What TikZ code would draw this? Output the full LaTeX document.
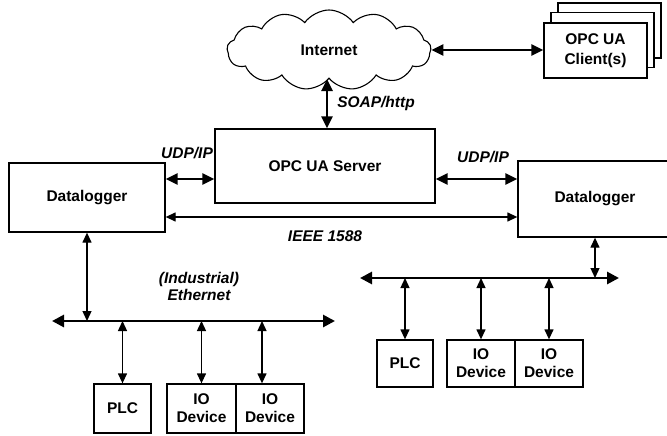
\documentclass[tikz,border=0pt]{standalone}
\usepackage{fontspec}
\setmainfont{Liberation Sans}
\usetikzlibrary{arrows.meta,shapes.symbols}
\begin{document}
\begin{tikzpicture}[x=1pt,y=-1pt,
  box/.style={draw, line width=1.3pt, fill=white, inner sep=0pt, align=center,
    font=\bfseries\fontsize{15.5}{18}\selectfont},
  lbl/.style={font=\bfseries\itshape\fontsize{15.5}{17}\selectfont, align=center, inner sep=0pt},
  thinarr/.style={line width=1.3pt, {Triangle[length=10pt,width=9pt]}-{Triangle[length=10pt,width=9pt]}},
  thickarr/.style={line width=2.6pt, {Triangle[length=12pt,width=11pt]}-{Triangle[length=12pt,width=11pt]}},
  busarr/.style={line width=2.8pt, {Triangle[length=12pt,width=12pt]}-{Triangle[length=12pt,width=12pt]}}]
\useasboundingbox (0,0) rectangle (667,436);
\clip (0,0) rectangle (667,436);

% cloud
\node[cloud, draw, line width=1.1pt, cloud puffs=13, cloud puff arc=110, aspect=2.6,
  minimum width=204, minimum height=80, inner sep=0pt,
  font=\bfseries\fontsize{15.5}{18}\selectfont] (internet) at (329,50) {Internet};

% clients (stacked)
\node[box, minimum width=103, minimum height=55] (client3) at (609.5,30.5) {};
\node[box, minimum width=103, minimum height=55] (client2) at (602.5,40) {};
\node[box, minimum width=103, minimum height=55] (client) at (595.5,50.5) {OPC UA\\[2pt]Client(s)};

% server and dataloggers
\node[box, minimum width=220, minimum height=74] (server) at (325,166) {OPC UA Server};
\node[box, minimum width=156, minimum height=69] (dl1) at (87,197.5) {Datalogger};
\node[box, minimum width=154, minimum height=76] (dl2) at (595,199) {Datalogger};

% left devices
\node[box, minimum width=57, minimum height=49] (plc1) at (122.5,408.5) {PLC};
\node[box, minimum width=69, minimum height=49] (ioa1) at (201.5,408.5) {IO\\Device};
\node[box, minimum width=68, minimum height=49] (iob1) at (270,408.5) {IO\\Device};

% right devices
\node[box, minimum width=56, minimum height=47] (plc2) at (405,363.5) {PLC};
\node[box, minimum width=68, minimum height=47] (ioa2) at (481,363.5) {IO\\Device};
\node[box, minimum width=68, minimum height=47] (iob2) at (549,363.5) {IO\\Device};

% buses
\coordinate (bus1w) at (52,321);
\coordinate (bus1e) at (335,321);
\coordinate (bus2w) at (360,278);
\coordinate (bus2e) at (619,278);
\draw[busarr] (bus1w) -- (bus1e);
\draw[busarr] (bus2w) -- (bus2e);

% top connectors
\draw[thickarr] (internet.east) -- (internet.east -| client.west);
\draw[thickarr] ([xshift=-2pt]internet.south) -- ([xshift=-2pt]internet.south |- server.north);
\draw[thickarr] (dl1.east |- 0,179) -- (server.west |- 0,179);
\draw[thickarr] (server.east |- 0,179) -- (dl2.west |- 0,179);
\draw[thinarr] (dl1.east |- 0,217) -- (dl2.west |- 0,217);

% verticals
\draw[thinarr] (dl1.south) -- (dl1.south |- bus1w);
\draw[thinarr] (dl2.south) -- (dl2.south |- bus2e);
\draw[thinarr] (plc1.north |- bus1w) -- (plc1.north);
\draw[thinarr] (ioa1.north |- bus1w) -- (ioa1.north);
\draw[thinarr] ([xshift=-8pt]iob1.north |- bus1w) -- ([xshift=-8pt]iob1.north);
\draw[thinarr] (plc2.north |- bus2w) -- (plc2.north);
\draw[thinarr] (ioa2.north |- bus2w) -- (ioa2.north);
\draw[thinarr] (iob2.north |- bus2w) -- (iob2.north);

% labels
\node[lbl] (soap) at (376,103) {SOAP/http};
\node[lbl] (udp1) at (187,153) {UDP/IP};
\node[lbl] (udp2) at (483,157) {UDP/IP};
\node[lbl] (ieee) at (325,236) {IEEE 1588};
\node[lbl] (eth) at (199,286) {(Industrial)\\Ethernet};
\end{tikzpicture}
\end{document}
